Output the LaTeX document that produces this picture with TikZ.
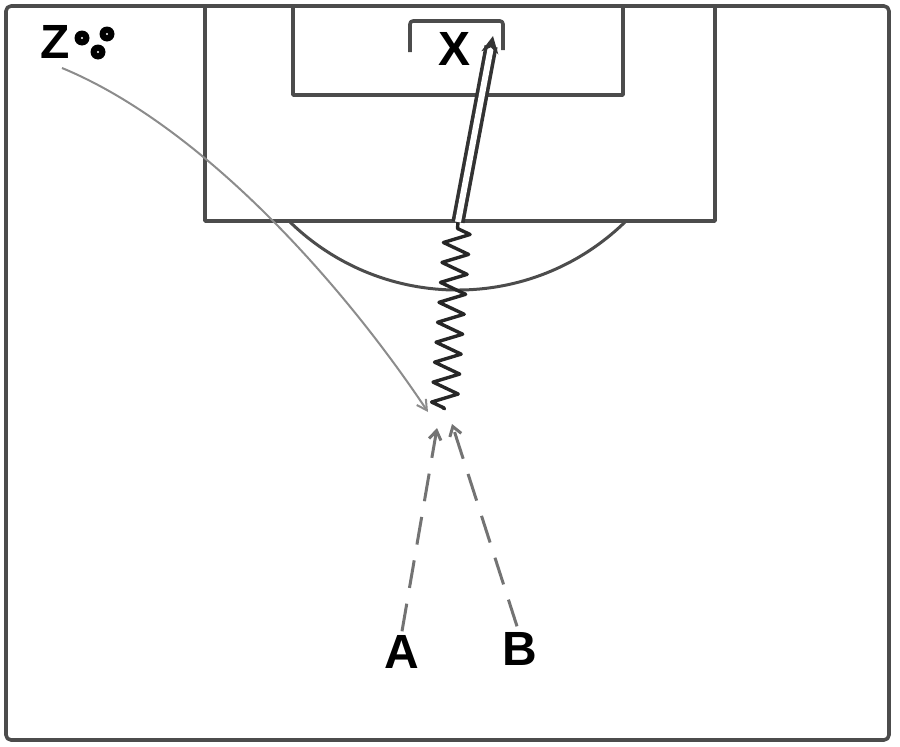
\documentclass[tikz,border=0pt]{standalone}
\usepackage{fontspec}
\setmainfont{Liberation Sans}
\usetikzlibrary{arrows.meta,decorations.pathmorphing}
\begin{document}
\begin{tikzpicture}[x=1pt,y=-1pt,
  fieldline/.style={line width=3.6pt,black!70,line join=round},
  lbl/.style={font=\fontsize{48}{48}\selectfont\bfseries,inner sep=0pt},
  ballst/.style={circle,fill=black,minimum size=15pt,inner sep=0pt,
    path picture={\fill[white] (path picture bounding box.center) circle[radius=1.2pt];}},
  passline/.style={line width=2pt,black!45,-{Straight Barb[length=10pt,width=11pt,line width=2pt]}},
  runline/.style={line width=3pt,black!55,dash pattern=on 28pt off 16pt,-{Straight Barb[length=9pt,width=12pt]}},
  dribble/.style={line width=3.4pt,black!85,line join=round,decorate,decoration={zigzag,amplitude=13pt,segment length=20pt,pre length=2pt,post length=2pt}},
  shot/.style={line width=3.6pt,black!80,double=white,double distance=6pt,-{Stealth[length=17pt,width=17pt]}}]
\useasboundingbox (0,0) rectangle (900,747);
% field
\draw[fieldline,rounded corners=5pt] (6,6) rectangle (889,740);
\draw[fieldline] (205,6) -- (205,221) -- (715,221) -- (715,6);
\draw[fieldline] (293,6) -- (293,95) -- (623,95) -- (623,6);
\draw[fieldline,rounded corners=3pt] (410,52) -- (410,21) -- (503,21) -- (503,50);
\draw[fieldline,line width=3pt] (290,222) .. controls (383.3,312.7) and (531.7,312.7) .. (625,222);
% labels
\node[lbl] (Z) at (55,42) {Z};
\node[ballst] (b1) at (82,38) {};
\node[ballst] (b2) at (107,34) {};
\node[ballst] (b3) at (98,52) {};
\node[lbl] (X) at (455,49) {X};
\node[lbl] (A) at (402,652) {A};
\node[lbl] (B) at (520,649) {B};
% named points
\coordinate (zs) at (62,68);
\coordinate (pe) at (428,412);
\coordinate (ae) at (437,428);
\coordinate (be) at (452,424);
\coordinate (ds) at (444,410);
\coordinate (de) at (458,222);
\coordinate (se) at (493,36);
% connectors
\draw[passline] (zs) .. controls (200,125) and (340,280) .. (pe);
\draw[runline] (A.north) ++(0,-4) -- (ae);
\draw[runline] (B.north) ++(-3,-6) -- (be);
\draw[dribble] (ds) -- (de);
\draw[shot] (de) -- (se);
\end{tikzpicture}
\end{document}
